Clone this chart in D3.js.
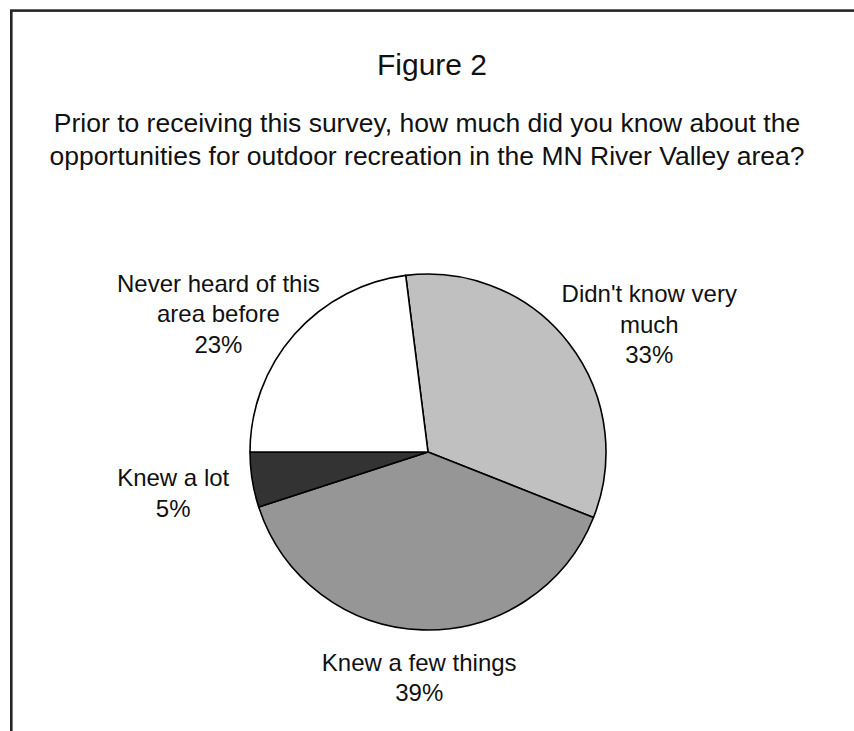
<!DOCTYPE html>
<html>
<head>
<meta charset="utf-8">
<script src="https://cdn.jsdelivr.net/npm/d3@7"></script>
<style>
  body { margin: 0; background: #fff; }
  text { font-family: "Liberation Sans", Arial, sans-serif; fill: #111; }
</style>
</head>
<body>
<div id="chart"></div>
<script>
// Figure 2 - survey pie chart
var categories = [
    ["Didn't know very", "much"],
    ["Knew a few things"],
    ["Knew a lot"],
    ["Never heard of this", "area before"]
];
var values = [33, 39, 5, 23];
var sliceColors = ["#c0c0c0", "#969696", "#333333", "#ffffff"];

var titleText = "Figure 2";
var subtitleLines = [
    "Prior to receiving this survey, how much did you know about the",
    "opportunities for outdoor recreation in the MN River Valley area?"
];

var svgWidth = 854, svgHeight = 731;
var cx = 428, cy = 452, radius = 178;

var svg = d3.select("#chart")
    .append("svg")
    .attr("width", svgWidth)
    .attr("height", svgHeight);

// frame (right and bottom edges run off the page)
svg.append("rect")
    .attr("x", 11.3)
    .attr("y", 10.6)
    .attr("width", 900)
    .attr("height", 900)
    .attr("fill", "none")
    .attr("stroke", "#262626")
    .attr("stroke-width", 2.6);

// title + question
svg.append("text")
    .attr("x", 432)
    .attr("y", 75)
    .attr("text-anchor", "middle")
    .style("font-size", "30px")
    .text(titleText);

svg.append("g")
    .selectAll("text")
    .data(subtitleLines)
    .enter()
    .append("text")
    .attr("x", 427)
    .attr("y", (d, i) => 132 + i * 33)
    .attr("text-anchor", "middle")
    .style("font-size", "26.5px")
    .text(d => d);

// pie
var data = values.map((v, i) => ({ value: v, lines: categories[i].concat([v + "%"]), color: sliceColors[i] }));

var pie = d3.pie()
    .sort(null)
    .value(d => d.value)
    .startAngle(-0.02 * 2 * Math.PI)
    .endAngle(0.98 * 2 * Math.PI);

var arc = d3.arc().innerRadius(0).outerRadius(radius);
var arcs = pie(data);

var pieGroup = svg.append("g")
    .attr("transform", `translate(${cx}, ${cy})`);

pieGroup.selectAll("path")
    .data(arcs)
    .enter()
    .append("path")
    .attr("d", arc)
    .attr("fill", d => d.data.color)
    .attr("stroke", "#000")
    .attr("stroke-width", 1.6)
    .attr("stroke-linejoin", "round");

// labels sit on an oval round the pie, kept inside the plot area on the left
var lineStep = 30.5;
var labelRx = 280, labelRy = 219, labelDy = 7;
var plotLeft = -311;
var labelGroup = pieGroup.append("g");

arcs.forEach(function (d) {
    var mid = (d.startAngle + d.endAngle) / 2;
    var n = d.data.lines.length;
    var t = labelGroup.append("text")
        .attr("text-anchor", "middle")
        .style("font-size", "24px");
    t.selectAll("tspan")
        .data(d.data.lines)
        .enter()
        .append("tspan")
        .attr("x", 0)
        .attr("y", (s, i) => i * lineStep)
        .text(s => s);

    var box = t.node().getBBox();
    var lx = Math.sin(mid) * labelRx;
    lx = Math.max(lx, plotLeft + box.width / 2);
    var ly = labelDy - Math.cos(mid) * labelRy;
    var firstBase = ly - (n - 1) * lineStep / 2 + 8;
    t.attr("transform", `translate(${lx}, ${firstBase})`);
});
</script>
</body>
</html>
